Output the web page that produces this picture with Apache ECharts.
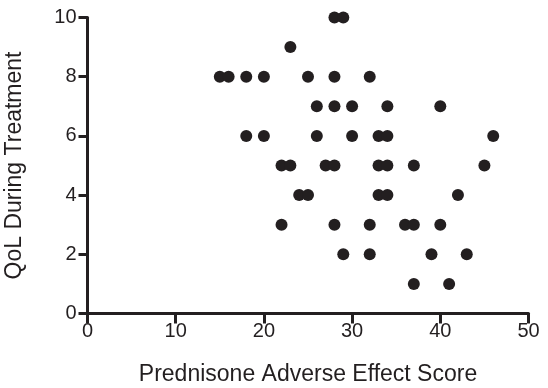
<!DOCTYPE html>
<html>
<head>
<meta charset="utf-8">
<script src="https://cdn.jsdelivr.net/npm/echarts@6/dist/echarts.min.js"></script>
<style>html,body{margin:0;padding:0;background:#fff}#c{width:548px;height:388px}</style>
</head>
<body>
<div id="c"></div>
<script>
// Prednisone adverse effect score (x) and QoL during treatment (y), one entry per patient
var adverseScore = [28,29, 23, 15,16,18,20,25,28,32, 26,28,30,34,40, 18,20,26,30,33,34,46, 22,23,27,28,33,34,37,45, 24,25,33,34,42, 22,28,32,36,37,40, 29,32,39,43, 37,41];
var qolScore     = [10,10, 9,  8,8,8,8,8,8,8,       7,7,7,7,7,      6,6,6,6,6,6,6,       5,5,5,5,5,5,5,5,        4,4,4,4,4,      3,3,3,3,3,3,       2,2,2,2,     1,1];
var xTicks = [0,10,20,30,40,50];
var yTicks = [0,2,4,6,8,10];

var pts = adverseScore.map(function(v,i){return [v, qolScore[i]];});
var dark = '#231f20';
var chart = echarts.init(document.getElementById('c'));
chart.setOption({
  animation:false,
  grid:{left:87.5,right:19.5,top:17.5,bottom:74.5,containLabel:false,outerBoundsMode:'none'},
  xAxis:{
    type:'value',min:xTicks[0],max:xTicks[xTicks.length-1],interval:10,
    name:'Prednisone Adverse Effect Score',nameLocation:'middle',nameGap:50,
    nameTextStyle:{fontFamily:'Liberation Sans',fontSize:23,color:dark},
    axisLine:{show:true,lineStyle:{color:dark,width:3}},
    axisTick:{show:true,length:10,lineStyle:{color:dark,width:3}},
    axisLabel:{margin:8,fontFamily:'Liberation Sans',fontSize:20,color:dark},
    splitLine:{show:false}
  },
  yAxis:{
    type:'value',min:yTicks[0],max:yTicks[yTicks.length-1],interval:2,
    name:'QoL During Treatment',nameLocation:'middle',nameGap:61,
    nameTextStyle:{fontFamily:'Liberation Sans',fontSize:23,color:dark},
    axisLine:{show:true,lineStyle:{color:dark,width:3}},
    axisTick:{show:true,length:9,lineStyle:{color:dark,width:3}},
    axisLabel:{margin:11,fontFamily:'Liberation Sans',fontSize:20,color:dark},
    splitLine:{show:false}
  },
  series:[{
    type:'scatter',data:pts,symbol:'circle',symbolSize:12,
    itemStyle:{color:dark,opacity:1}
  }]
});
</script>
</body>
</html>
